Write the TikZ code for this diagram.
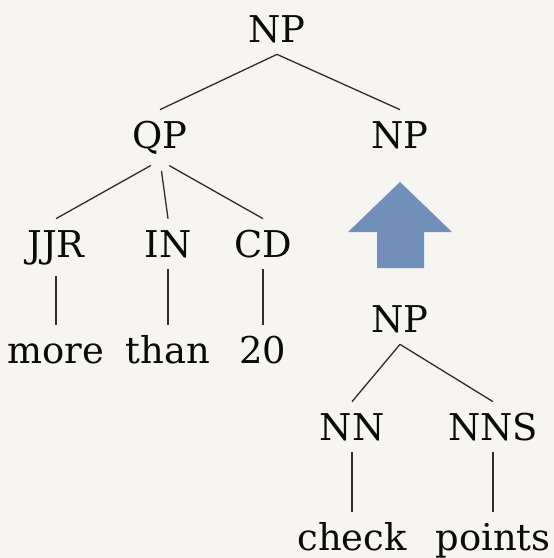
\documentclass[tikz,border=0pt]{standalone}
\usepackage{fontspec}
\setmainfont{DejaVu Serif}
\usepackage{tikz}
\usetikzlibrary{positioning}
\definecolor{paper}{RGB}{247, 245, 241}
\definecolor{liftblue}{RGB}{114, 143, 185}
\definecolor{ink}{RGB}{10, 10, 10}
\tikzset{
  tag/.style={anchor=base, inner xsep=0pt, inner ysep=0.24cm, text height=0.52cm,
              text depth=0pt, font=\fontsize{21}{25}\selectfont, text=ink},
  br/.style={draw=ink!85, line width=0.75pt},
}
\begin{document}
\begin{tikzpicture}[x=0.02cm, y=-0.02cm]
  \fill[paper] (0,0) rectangle (554,558);
  \useasboundingbox (0,0) rectangle (554,558);

  % upper tree
  \node[tag] (np) at (277,42) {NP};
  \node[tag] (qp) at (160,148) {QP};
  \node[tag] (npr) at (400,148) {NP};
  \node[tag] (jjr) at (56,257) {JJR};
  \node[tag] (in) at (168,257) {IN};
  \node[tag] (cd) at (263,257) {CD};
  \node[tag] (more) at (56,363) {more};
  \node[tag] (than) at (168,363) {than};
  \node[tag] (twenty) at (263,363) {20};

  \draw[br] (np.south) -- (qp.north);
  \draw[br] (np.south) -- (npr.north);
  \draw[br, shorten <=6pt] (qp.south) -- (jjr.north);
  \draw[br, shorten <=6pt] (qp.south) -- (in.north);
  \draw[br, shorten <=6pt] (qp.south) -- (cd.north);
  \draw[br, shorten <=4pt] (jjr.south) -- (more.north);
  \draw[br] (in.south) -- (than.north);
  \draw[br] (cd.south) -- (twenty.north);

  % lower tree
  \node[tag] (npb) at (400,332) {NP};
  \node[tag] (nn) at (352,440) {NN};
  \node[tag] (nns) at (493,440) {NNS};
  \node[tag] (check) at (352,550) {check};
  \node[tag] (points) at (493,550) {points};

  \draw[br] (npb.south) -- (nn.north);
  \draw[br] (npb.south) -- (nns.north);
  \draw[br] (nn.south) -- (check.north);
  \draw[br] (nns.south) -- (points.north);

  % lifting arrow
  \fill[liftblue] (400,182) -- (452,232) -- (424,232) -- (424,268)
    -- (377,268) -- (377,232) -- (348,232) -- cycle;
\end{tikzpicture}
\end{document}
